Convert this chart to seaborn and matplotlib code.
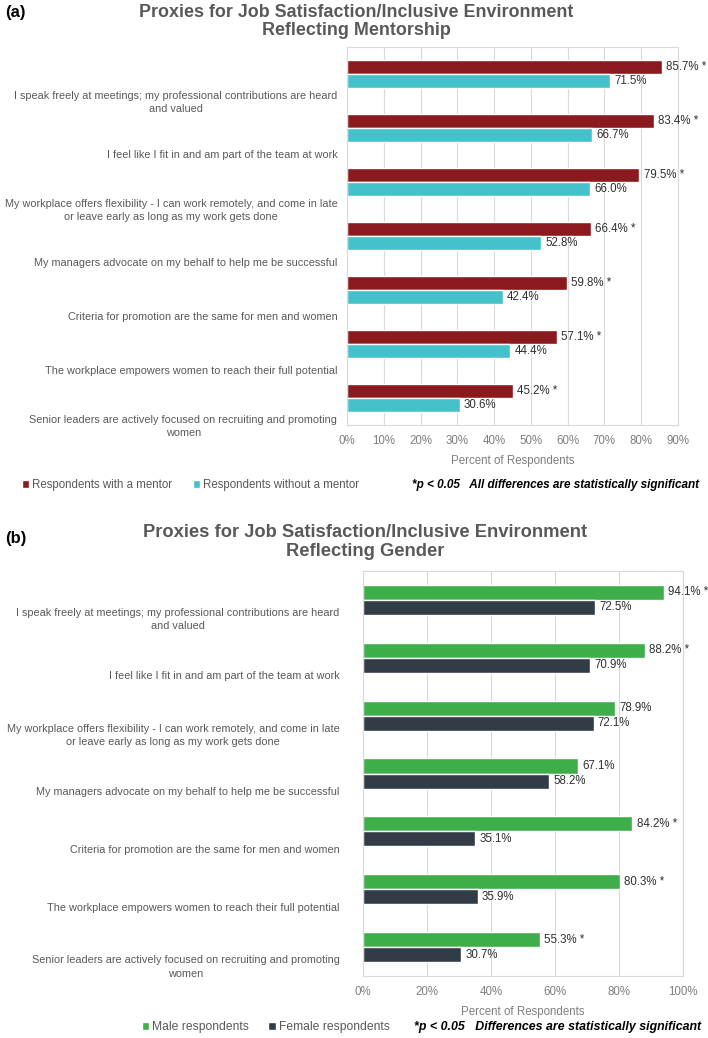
import numpy as np
import pandas as pd
import seaborn as sns
import matplotlib.pyplot as plt

items = [
    "I speak freely at meetings; my professional contributions are heard\nand valued",
    "I feel like I fit in and am part of the team at work",
    "My workplace offers flexibility - I can work remotely, and come in late\nor leave early as long as my work gets done",
    "My managers advocate on my behalf to help me be successful",
    "Criteria for promotion are the same for men and women",
    "The workplace empowers women to reach their full potential",
    "Senior leaders are actively focused on recruiting and promoting\nwomen",
]

with_mentor = [85.7, 83.4, 79.5, 66.4, 59.8, 57.1, 45.2]
without_mentor = [71.5, 66.7, 66.0, 52.8, 42.4, 44.4, 30.6]
mentor_sig = [True, True, True, True, True, True, True]

male = [94.1, 88.2, 78.9, 67.1, 84.2, 80.3, 55.3]
female = [72.5, 70.9, 72.1, 58.2, 35.1, 35.9, 30.7]
gender_sig = [True, True, False, False, True, True, True]

sns.set_style('white')
plt.rcParams['font.family'] = ['Liberation Sans', 'DejaVu Sans']

fig = plt.figure(figsize=(7.08, 10.38), dpi=100)


def panel(rect, first, second, sig, labels, colors, xmax, step, offset, pad,
          tag, tag_y, title, title_x, title_y, title_size, leg_x, leg_y, leg_size,
          colspace, note, note_x, note_size):
    ax = fig.add_axes(rect)
    df = pd.DataFrame({
        'item': items * 2,
        'pct': first + second,
        'group': [labels[0]] * len(items) + [labels[1]] * len(items),
    })
    sns.barplot(data=df, y='item', x='pct', hue='group', orient='h',
                palette=colors, width=0.52, ax=ax, saturation=1)
    ax.get_legend().remove()

    ax.bar_label(ax.containers[0],
                 labels=[f"{v:.1f}%" + (" *" if s else "") for v, s in zip(first, sig)],
                 padding=3, fontsize=8.3, color='#303030')
    ax.bar_label(ax.containers[1], labels=[f"{v:.1f}%" for v in second],
                 padding=3, fontsize=8.3, color='#303030')

    ax.set_xlim(0, xmax)
    ticks = np.arange(0, xmax + 0.1, step)
    ax.set_xticks(ticks)
    ax.set_xticklabels([f"{t:.0f}%" for t in ticks], fontsize=8.3, color='#7f7f7f')
    ax.set_xlabel('Percent of Respondents', fontsize=8.3, color='#7f7f7f', labelpad=6)

    ax.set_ylim(len(items) - 0.5, -0.5)
    ax.set_yticks(np.arange(len(items)) + offset)
    ax.set_yticklabels(items, fontsize=7.8, color='#595959', multialignment='center',
                       linespacing=1.4)
    ax.set_ylabel('')
    ax.tick_params(axis='y', length=0, pad=pad)
    ax.tick_params(axis='x', length=0, pad=7)

    ax.grid(axis='x', color='#d9d9d9', linewidth=0.8)
    ax.set_axisbelow(True)
    for s in ax.spines.values():
        s.set_color('#d9d9d9')
        s.set_linewidth(0.8)

    fig.text(5 / 708, 1 - tag_y / 1038, tag, fontsize=12, fontweight='bold',
             va='center', color='black')
    fig.text(title_x / 708, 1 - title_y / 1038, title, fontsize=title_size,
             fontweight='bold', ha='center', va='center', color='#595959',
             linespacing=1.15)

    handles, lbls = ax.get_legend_handles_labels()
    fig.legend(handles, lbls, loc='center left',
               bbox_to_anchor=(leg_x / 708, 1 - leg_y / 1038), ncol=2, frameon=False,
               handlelength=0.6, handleheight=0.6, handletextpad=0.25,
               columnspacing=colspace, borderaxespad=0, borderpad=0,
               prop={'size': leg_size}, labelcolor='#595959')
    fig.text(note_x / 708, 1 - leg_y / 1038, note, fontsize=note_size, fontweight='bold',
             style='italic', ha='right', va='center', color='black')
    return ax


panel([347 / 708, 1 - 425 / 1038, 331 / 708, 378 / 1038],
      with_mentor, without_mentor, mentor_sig,
      ['Respondents with a mentor', 'Respondents without a mentor'],
      ['#8b1a1f', '#45c1cb'], 90, 10, 0.48, 7,
      '(a)', 12, 'Proxies for Job Satisfaction/Inclusive Environment\nReflecting Mentorship',
      356, 21.5, 12.9, 22, 485, 8.3, 1.85,
      '*p < 0.05   All differences are statistically significant', 699, 8.5)

panel([363 / 708, 1 - 976 / 1038, 320 / 708, 405 / 1038],
      male, female, gender_sig,
      ['Male respondents', 'Female respondents'],
      ['#3dae4a', '#323c46'], 100, 20, 0.3, 17,
      '(b)', 539, 'Proxies for Job Satisfaction/Inclusive Environment\nReflecting Gender',
      365, 542, 13.2, 142, 1027, 8.7, 1.6,
      '*p < 0.05   Differences are statistically significant', 701, 8.9)

fig.savefig('out.png', dpi=100)
